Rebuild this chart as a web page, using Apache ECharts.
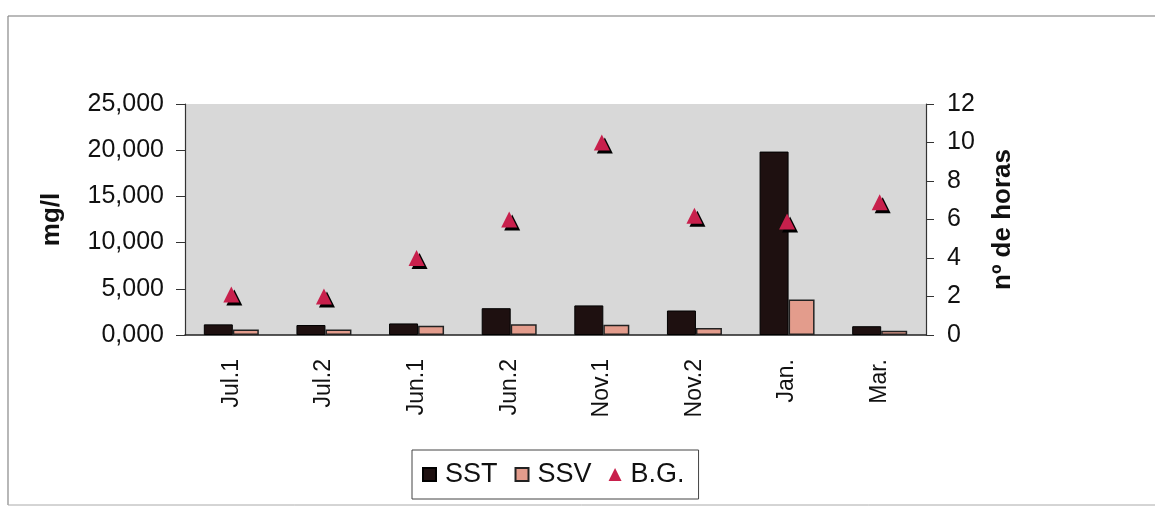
<!DOCTYPE html>
<html><head><meta charset="utf-8">
<script src="https://cdn.jsdelivr.net/npm/echarts@6/dist/echarts.min.js"></script>
<style>html,body{margin:0;padding:0;background:#fff}#c{width:1155px;height:509px}</style>
</head><body><div id="c"></div>
<script>
var categories = ['Jul.1','Jul.2','Jun.1','Jun.2','Nov.1','Nov.2','Jan.','Mar.'];
var sstValues = [1150, 1080, 1250, 2900, 3200, 2650, 19850, 950];
var ssvValues = [600, 600, 1000, 1150, 1100, 750, 3850, 450];
var bgValues = [2.1, 2.0, 4.0, 6.0, 10.0, 6.2, 5.9, 6.9];
var leftTicks = {min: 0, max: 25000, interval: 5000};
var rightTicks = {min: 0, max: 12, interval: 2};

var FONT = 'Liberation Sans, Arial, sans-serif';
var chart = echarts.init(document.getElementById('c'), null, {renderer: 'canvas'});
chart.setOption({
  animation: false,
  backgroundColor: '#fff',
  textStyle: {fontFamily: FONT, color: '#111'},
  graphic: [
    {type: 'line', shape: {x1: 8, y1: 16, x2: 1155, y2: 16}, style: {stroke: '#777', lineWidth: 1.2}},
    {type: 'line', shape: {x1: 8, y1: 16, x2: 8, y2: 505}, style: {stroke: '#888', lineWidth: 1.2}},
    {type: 'line', shape: {x1: 8, y1: 505, x2: 1155, y2: 505}, style: {stroke: '#aaa', lineWidth: 1}}
  ],
  grid: {left: 185, top: 104, right: 229, bottom: 174, show: true, backgroundColor: '#d8d8d8', borderWidth: 0},
  legend: {
    left: 412, top: 450,
    padding: [11, 14, 11, 10],
    borderColor: '#444', borderWidth: 1,
    itemWidth: 13, itemHeight: 13, itemGap: 17,
    textStyle: {fontSize: 27, fontFamily: FONT, color: '#111', padding: [0, 0, 0, 4]},
    data: [
      {name: 'SST', icon: 'rect'},
      {name: 'SSV', icon: 'rect'},
      {name: 'B.G.', icon: 'triangle', itemStyle: {shadowColor: 'transparent', shadowOffsetX: 0, shadowOffsetY: 0}}
    ]
  },
  xAxis: {
    type: 'category', data: categories,
    axisLine: {show: true, lineStyle: {color: '#222', width: 1.5}},
    axisTick: {show: false},
    axisLabel: {rotate: 90, fontSize: 23, margin: 24, color: '#111', fontFamily: FONT},
    splitLine: {show: false}
  },
  yAxis: [
    {
      type: 'value', min: leftTicks.min, max: leftTicks.max, interval: leftTicks.interval,
      name: 'mg/l', nameLocation: 'middle', nameGap: 120, nameRotate: 90,
      nameTextStyle: {fontSize: 26, fontWeight: 'bold', fontFamily: FONT, color: '#111'},
      axisLine: {show: true, lineStyle: {color: '#333', width: 1.2}},
      axisTick: {show: true, length: 9, lineStyle: {color: '#333'}},
      axisLabel: {fontSize: 25, margin: 21, color: '#111', fontFamily: FONT,
        formatter: function (v) { return (v / 1000) + ',000'; }},
      splitLine: {show: false}
    },
    {
      type: 'value', min: rightTicks.min, max: rightTicks.max, interval: rightTicks.interval,
      name: 'nº de horas', nameLocation: 'middle', nameGap: 64, nameRotate: 90,
      nameTextStyle: {fontSize: 26, fontWeight: 'bold', fontFamily: FONT, color: '#111'},
      axisLine: {show: true, lineStyle: {color: '#333', width: 1.2}},
      axisTick: {show: true, length: 8, lineStyle: {color: '#333'}},
      axisLabel: {fontSize: 25, margin: 21, color: '#111', fontFamily: FONT},
      splitLine: {show: false}
    }
  ],
  series: [
    {name: 'SST', type: 'bar', yAxisIndex: 0, data: sstValues, barWidth: 29, barGap: '0%',
      itemStyle: {color: '#1e1010', borderColor: '#000', borderWidth: 1}},
    {name: 'SSV', type: 'bar', yAxisIndex: 0, data: ssvValues, barWidth: 26, barGap: '0%',
      itemStyle: {color: '#e39c8c', borderColor: '#222', borderWidth: 1.5}},
    {name: 'B.G.', type: 'scatter', yAxisIndex: 1, data: bgValues, symbol: 'triangle', symbolSize: 16,
      itemStyle: {color: '#c8204c', shadowColor: '#000', shadowOffsetX: 3, shadowOffsetY: 3, shadowBlur: 0.5, opacity: 1}}
  ]
});
</script></body></html>
